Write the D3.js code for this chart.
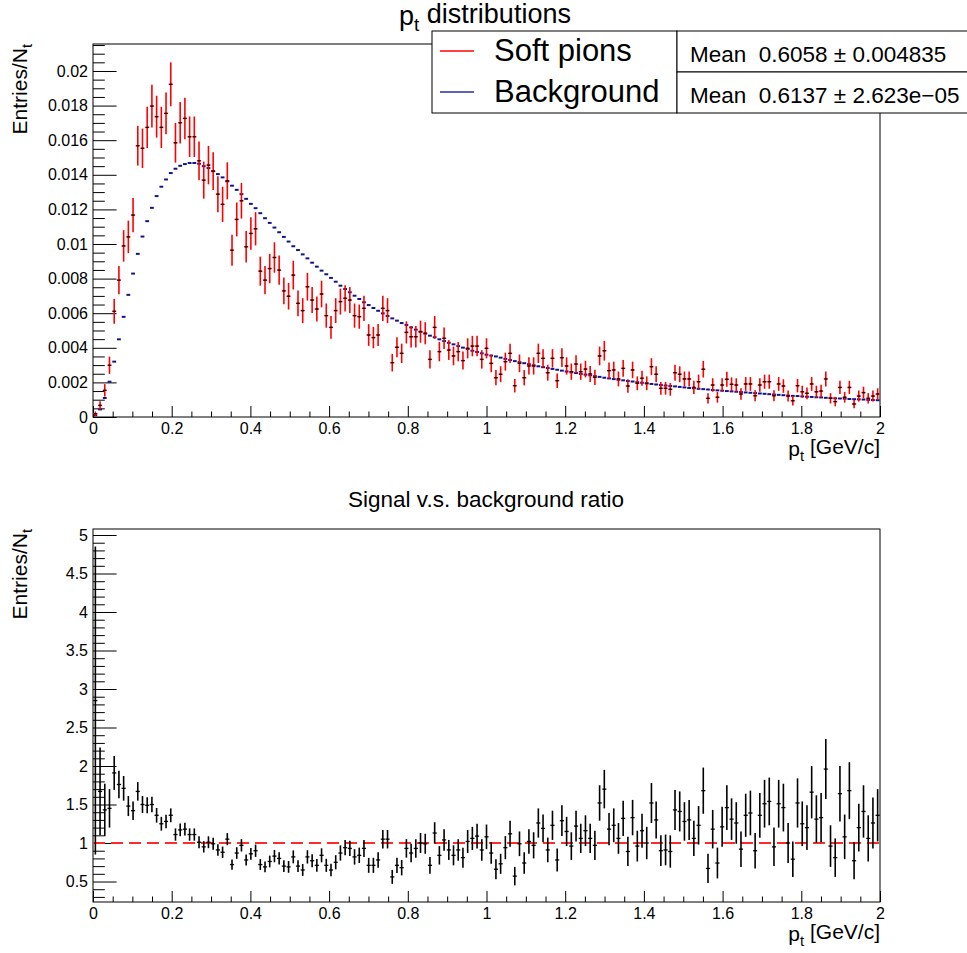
<!DOCTYPE html>
<html><head><meta charset="utf-8">
<script src="https://cdn.jsdelivr.net/npm/d3@7"></script>
<style>
body{margin:0;background:#fff}
svg{display:block}
text{font-family:"Liberation Sans",Arial,Helvetica,sans-serif;fill:#000}
</style>
</head><body><svg id="c" width="967" height="953"></svg>
<script>
// ---------- histogram binning ----------
const N_BINS = 167, X_MIN = 0, X_MAX = 2;

// ---------- Soft pions (Entries/N_t, in units of 1e-3) ----------
const softPions = [
0.19,0.67,1.54,2.99,6.11,7.91,9.89,10.41,11.67,15.68,15.53,16.74,17.97,17.36,16.74,17.55,19.23,15.85,17.01,17.26,16.20,16.20,14.81,13.69,14.56,14.21,12.88,12.29,13.65,9.64,11.42,12.5,9.84,10.61,10.88,8.43,7.91,8.58,9.22,8.49,7.29,6.98,8.20,
6.57,6.15,7.53,6.76,6.24,7.11,5.86,5.18,6.15,6.67,6.86,6.76,5.86,5.80,6.28,4.74,4.59,4.74,6.28,6.15,3.14,4.03,3.68,4.89,4.64,4.64,4.93,4.84,3.33,5.18,3.78,4.55,3.87,3.53,3.78,3.26,3.97,4.10,4.10,3.33,3.97,
3.10,2.27,2.47,3.20,3.68,1.81,3.10,2.27,2.95,2.95,3.68,3.39,2.56,3.39,2.10,3.43,2.95,2.62,3.06,2.62,2.77,2.49,2.29,3.53,3.83,2.68,2.72,2.20,2.81,1.79,2.72,1.95,2.24,1.95,2.91,2.47,1.66,1.66,1.60,2.56,2.47,2.20,2.20,
1.71,2.04,2.76,1.08,1.85,1.14,1.85,2.18,1.89,1.85,1.33,1.91,1.91,1.23,1.85,2.04,2.04,1.23,1.91,1.79,1.21,0.94,1.81,1.46,1.37,1.91,1.46,1.50,2.20,1.08,0.89,1.71,1.14,1.71,0.75,1.21,1.41,1.08,1.21,1.33
];
const softPionsErr = [
0.13,0.24,0.36,0.50,0.72,0.82,0.91,0.94,0.99,1.15,1.14,1.19,1.23,1.21,1.19,1.21,1.27,1.15,1.20,1.20,1.17,1.17,1.12,1.07,1.11,1.09,1.04,1.02,1.07,0.90,0.98,1.03,0.91,0.94,0.96,0.84,0.82,0.85,0.88,0.84,0.78,0.77,0.83,
0.74,0.72,0.80,0.75,0.72,0.77,0.70,0.66,0.72,0.75,0.76,0.75,0.70,0.70,0.73,0.63,0.62,0.63,0.73,0.72,0.51,0.58,0.56,0.64,0.62,0.62,0.64,0.64,0.53,0.66,0.56,0.62,0.57,0.54,0.56,0.52,0.58,0.59,0.59,0.53,0.58,
0.51,0.44,0.46,0.52,0.56,0.39,0.51,0.44,0.50,0.50,0.56,0.53,0.46,0.53,0.42,0.54,0.50,0.47,0.51,0.47,0.48,0.46,0.44,0.54,0.57,0.47,0.48,0.43,0.49,0.39,0.48,0.40,0.43,0.40,0.49,0.46,0.37,0.37,0.37,0.46,0.46,0.43,0.43,
0.38,0.41,0.48,0.30,0.39,0.31,0.39,0.43,0.40,0.39,0.33,0.40,0.40,0.32,0.39,0.41,0.41,0.32,0.40,0.39,0.32,0.28,0.39,0.35,0.34,0.40,0.35,0.36,0.43,0.30,0.27,0.38,0.31,0.38,0.25,0.32,0.34,0.30,0.32,0.33
];

// ---------- Background (Entries/N_t, in units of 1e-3) ----------
const background = [
0.10,0.44,1.10,2.04,3.20,4.49,5.79,7.06,8.29,9.43,10.43,11.32,12.09,12.77,13.31,13.73,14.10,14.35,14.52,14.62,14.68,14.68,14.64,14.50,14.39,14.21,14.04,13.85,13.62,13.37,13.13,12.88,12.61,12.32,12.07,11.78,11.49,11.22,10.95,10.68,10.41,10.14,9.87,
9.65,9.40,9.17,8.92,8.69,8.46,8.25,8.04,7.82,7.59,7.40,7.21,7.01,6.82,6.63,6.47,6.30,6.14,5.99,5.84,5.70,5.57,5.43,5.32,5.18,5.05,4.93,4.82,4.70,4.61,4.49,4.39,4.29,4.20,4.10,4.01,3.93,3.83,3.76,3.68,3.60,
3.55,3.50,3.43,3.36,3.29,3.23,3.17,3.11,3.05,2.99,
2.93,2.88,2.83,2.78,2.73,2.68,2.63,2.58,2.54,2.49,
2.45,2.41,2.36,2.32,2.27,2.23,2.19,2.15,2.12,2.08,
2.05,2.01,1.98,1.94,1.91,1.88,1.85,1.82,1.79,1.77,
1.74,1.71,1.68,1.66,1.63,1.61,1.59,1.56,1.54,1.52,
1.50,1.48,1.46,1.44,1.42,1.40,1.38,1.36,1.34,1.32,
1.30,1.28,1.26,1.24,1.22,1.21,1.19,1.17,1.16,1.14,
1.13,1.11,1.10,1.08,1.07,1.06,1.04,1.03,1.02,1.01,
0.99,0.98,0.97
];

// ---------- Signal / background ratio ----------
const ratio = [
2.85,1.67,1.43,1.45,1.91,1.76,1.71,1.48,1.42,1.67,1.50,1.49,1.50,1.36,1.25,1.28,1.36,1.11,1.17,1.18,1.11,1.11,1.01,0.95,1.01,0.99,0.91,0.88,1.05,0.72,0.87,0.97,0.78,0.86,0.90,0.72,0.69,0.76,0.83,0.80,0.70,0.69,0.82,
0.70,0.65,0.82,0.77,0.71,0.84,0.71,0.65,0.75,0.87,0.94,0.93,0.82,0.84,0.93,0.71,0.71,0.78,1.05,1.05,0.56,0.71,0.68,0.93,0.87,0.93,1.00,0.99,0.71,1.13,0.84,1.04,0.91,0.84,0.91,0.81,1.02,1.06,1.09,0.91,1.08,
0.87,0.66,0.73,0.94,1.12,0.57,0.99,0.74,1.02,0.97,1.26,1.19,0.91,1.23,0.78,1.29,1.15,0.96,1.22,1.06,1.16,1.06,0.97,1.52,1.70,1.18,1.23,1.06,1.32,0.89,1.33,0.96,1.16,1.00,1.52,1.30,0.90,0.91,0.89,1.43,1.41,1.28,1.30,
1.06,1.23,1.68,0.67,1.18,0.74,1.21,1.46,1.31,1.26,0.92,1.36,1.39,0.90,1.36,1.51,1.54,0.95,1.51,1.46,1.00,0.79,1.52,1.25,1.20,1.66,1.31,1.33,1.96,0.96,0.81,1.64,1.08,1.68,0.77,1.20,1.41,1.06,1.26,1.36
];
const ratioErr = [
2.0,0.57,0.34,0.25,0.22,0.18,0.16,0.13,0.12,0.12,0.11,0.105,0.10,0.095,0.09,0.088,0.09,0.08,0.083,0.082,0.08,0.08,0.077,0.074,0.077,0.077,0.074,0.074,0.079,0.067,0.075,0.08,0.072,0.076,0.08,0.071,0.071,0.076,0.08,0.079,0.075,0.076,0.084,
0.077,0.077,0.087,0.084,0.083,0.091,0.085,0.082,0.092,0.099,0.10,0.10,0.10,0.10,0.11,0.097,0.098,0.10,0.12,0.12,0.09,0.10,0.10,0.12,0.12,0.12,0.13,0.13,0.11,0.14,0.12,0.14,0.13,0.13,0.14,0.13,0.15,0.15,0.16,0.14,0.16,
0.14,0.13,0.13,0.15,0.17,0.12,0.16,0.14,0.16,0.17,0.19,0.18,0.16,0.19,0.15,0.20,0.19,0.18,0.20,0.19,0.20,0.19,0.19,0.23,0.25,0.21,0.22,0.20,0.23,0.19,0.23,0.20,0.22,0.21,0.26,0.24,0.20,0.20,0.21,0.26,0.26,0.25,0.26,
0.23,0.25,0.30,0.19,0.25,0.20,0.26,0.29,0.27,0.27,0.23,0.28,0.29,0.23,0.29,0.31,0.31,0.25,0.31,0.31,0.26,0.23,0.32,0.29,0.29,0.34,0.31,0.32,0.39,0.27,0.25,0.36,0.29,0.37,0.24,0.31,0.34,0.30,0.33,0.34
];

// ---------- ticks / labels ----------
const xTicks = [0,0.2,0.4,0.6,0.8,1,1.2,1.4,1.6,1.8,2];
const xTickLabels = ["0","0.2","0.4","0.6","0.8","1","1.2","1.4","1.6","1.8","2"];
const yTopTicks = [0,2,4,6,8,10,12,14,16,18,20];          // units of 1e-3
const yTopTickLabels = ["0","0.002","0.004","0.006","0.008","0.01","0.012","0.014","0.016","0.018","0.02"];
const yBotTicks = [0.5,1,1.5,2,2.5,3,3.5,4,4.5,5];
const yBotTickLabels = ["0.5","1","1.5","2","2.5","3","3.5","4","4.5","5"];
const legendLabels = ["Soft pions","Background"];
const statsLabels = ["Mean  0.6058 \u00b1 0.004835","Mean  0.6137 \u00b1 2.623e\u221205"];

[softPions,softPionsErr,background,ratio,ratioErr].forEach((a,k)=>{
  if(a.length!==N_BINS) throw new Error("array "+k+" has length "+a.length);
});

const FONT = '"Liberation Sans",Arial,Helvetica,sans-serif';
const svg = d3.select("#c");
svg.append("rect").attr("width",967).attr("height",953).attr("fill","#fff");

const FL=93, FR=880;
const x = d3.scaleLinear().domain([X_MIN,X_MAX]).range([FL,FR]);
const yT = d3.scaleLinear().domain([0,21.56]).range([417,44]);
const yB = d3.scaleLinear().domain([0.234,5.078]).range([902,529]);
const binW = (X_MAX-X_MIN)/N_BINS;
const bins = d3.range(N_BINS).map(i=>({i, lo:X_MIN+i*binW, hi:X_MIN+(i+1)*binW, c:X_MIN+(i+0.5)*binW}));

function drawAxes(g, yScale, yTicks, yLabels, yMinor, yBottom, ytickLen, xtickLen){
  const xMinor = d3.range(0,2.0001,0.05).filter(v=>Math.abs(v*5-Math.round(v*5))>1e-6);
  g.append("g").attr("transform",`translate(0,${yBottom})`)
    .call(d3.axisBottom(x).tickValues(xMinor).tickFormat("").tickSize(-xtickLen/2))
    .call(s=>s.select(".domain").remove());
  g.append("g").attr("transform",`translate(0,${yBottom})`)
    .call(d3.axisBottom(x).tickValues(xTicks).tickFormat((d,i)=>xTickLabels[i]).tickSize(-xtickLen).tickPadding(6))
    .call(s=>s.select(".domain").remove())
    .call(s=>s.selectAll("text").attr("font-size",16).attr("font-family",FONT));
  g.append("g").attr("transform",`translate(${FL},0)`)
    .call(d3.axisLeft(yScale).tickValues(yMinor).tickFormat("").tickSize(-ytickLen/2))
    .call(s=>s.select(".domain").remove());
  g.append("g").attr("transform",`translate(${FL},0)`)
    .call(d3.axisLeft(yScale).tickValues(yTicks).tickFormat((d,i)=>yLabels[i]).tickSize(-ytickLen).tickPadding(5))
    .call(s=>s.select(".domain").remove())
    .call(s=>s.selectAll("text").attr("font-size",16).attr("font-family",FONT));
  g.selectAll(".tick line").attr("stroke","#000").attr("stroke-width",1);
}

// ================= TOP PAD =================
const topG = svg.append("g");
topG.append("rect").attr("x",FL).attr("y",44).attr("width",FR-FL).attr("height",417-44)
  .attr("fill","none").attr("stroke","#000").attr("stroke-width",1);
const yTopMinor = d3.range(0,21.5001,0.5).filter(v=>Math.abs(v/2-Math.round(v/2))>1e-6);
drawAxes(topG, yT, yTopTicks, yTopTickLabels, yTopMinor, 417, 23.6, 11);

// background histogram (blue dashes)
topG.append("g").selectAll("line").data(bins).join("line")
  .attr("x1",d=>x(d.lo)+0.45).attr("x2",d=>x(d.hi)-0.45)
  .attr("y1",d=>yT(background[d.i])).attr("y2",d=>yT(background[d.i]))
  .attr("stroke","#12128a").attr("stroke-width",2);

// soft pions (red error bars)
const sp = topG.append("g");
sp.selectAll("line.v").data(bins).join("line").attr("class","v")
  .attr("x1",d=>x(d.c)).attr("x2",d=>x(d.c))
  .attr("y1",d=>yT(softPions[d.i]-softPionsErr[d.i])).attr("y2",d=>yT(softPions[d.i]+softPionsErr[d.i]))
  .attr("stroke","#ff0000").attr("stroke-width",1.6);
sp.selectAll("line.h").data(bins).join("line").attr("class","h")
  .attr("x1",d=>x(d.lo)+0.3).attr("x2",d=>x(d.hi)-0.3)
  .attr("y1",d=>yT(softPions[d.i])).attr("y2",d=>yT(softPions[d.i]))
  .attr("stroke","#ff0000").attr("stroke-width",1.4);
sp.selectAll("line.m").data(bins).join("line").attr("class","m")
  .attr("x1",d=>x(d.c)-1.4).attr("x2",d=>x(d.c)+1.4)
  .attr("y1",d=>yT(softPions[d.i])).attr("y2",d=>yT(softPions[d.i]))
  .attr("stroke","#000").attr("stroke-width",1.3);

// titles
const t1 = topG.append("text").attr("x",485).attr("y",25).attr("text-anchor","middle").attr("font-size",27);
t1.append("tspan").text("p");
t1.append("tspan").attr("dy","0.3em").attr("font-size","70%").text("t");
t1.append("tspan").attr("dy","-0.3em").text(" distributions");

function xTitle(g, yb){
  const t = g.append("text").attr("x",FR).attr("y",yb).attr("text-anchor","end").attr("font-size",21);
  t.append("tspan").text("p");
  t.append("tspan").attr("dy","0.35em").attr("font-size","70%").text("t");
  t.append("tspan").attr("dy","-0.35em").text(" [GeV/c]");
}
function yTitle(g, ytop){
  const t = g.append("text").attr("transform",`translate(27,${ytop}) rotate(-90)`).attr("text-anchor","end").attr("font-size",21);
  t.append("tspan").text("Entries/N");
  t.append("tspan").attr("dy","0.35em").attr("font-size","70%").text("t");
}
xTitle(topG, 456);
yTitle(topG, 44);

// legend
const leg = topG.append("g");
leg.append("rect").attr("x",432).attr("y",31).attr("width",677-432).attr("height",113-31)
  .attr("fill","#fff").attr("stroke","#000").attr("stroke-width",1);
const legColors = ["#ff0000","#2b2b9e"];
legendLabels.forEach((lab,k)=>{
  const yy = 51 + k*41;
  leg.append("line").attr("x1",440).attr("x2",474).attr("y1",yy).attr("y2",yy)
    .attr("stroke",legColors[k]).attr("stroke-width",1.5);
  leg.append("text").attr("x",494).attr("y",yy+10).attr("font-size",31).text(lab);
});
// stats boxes
statsLabels.forEach((lab,k)=>{
  const y0 = 31 + k*41;
  topG.append("rect").attr("x",677).attr("y",y0).attr("width",300).attr("height",41)
    .attr("fill","#fff").attr("stroke","#000").attr("stroke-width",1);
  topG.append("text").attr("x",690).attr("y",y0+31).attr("font-size",22.5)
    .attr("xml:space","preserve").style("white-space","pre").text(lab);
});

// ================= BOTTOM PAD =================
const botG = svg.append("g");
botG.append("rect").attr("x",FL).attr("y",529).attr("width",FR-FL).attr("height",902-529)
  .attr("fill","none").attr("stroke","#000").attr("stroke-width",1);
const yBotMinor = d3.range(0.3,5.0001,0.1).filter(v=>Math.abs(v*2-Math.round(v*2))>1e-6);
drawAxes(botG, yB, yBotTicks, yBotTickLabels, yBotMinor, 902, 23.6, 11);

botG.append("line").attr("x1",x(X_MIN)).attr("x2",x(X_MAX)).attr("y1",yB(1)).attr("y2",yB(1))
  .attr("stroke","#ff2a2a").attr("stroke-width",2).attr("stroke-dasharray","12,6");

const rp = botG.append("g");
rp.selectAll("line.v").data(bins).join("line").attr("class","v")
  .attr("x1",d=>x(d.c)).attr("x2",d=>x(d.c))
  .attr("y1",d=>yB(Math.max(0.234,ratio[d.i]-ratioErr[d.i]))).attr("y2",d=>yB(Math.min(5.078,ratio[d.i]+ratioErr[d.i])))
  .attr("stroke","#000").attr("stroke-width",1.6);
rp.selectAll("line.h").data(bins).join("line").attr("class","h")
  .attr("x1",d=>x(d.lo)+0.3).attr("x2",d=>x(d.hi)-0.3)
  .attr("y1",d=>yB(ratio[d.i])).attr("y2",d=>yB(ratio[d.i]))
  .attr("stroke","#000").attr("stroke-width",1.3);

botG.append("text").attr("x",486).attr("y",507).attr("text-anchor","middle").attr("font-size",22.5)
  .text("Signal v.s. background ratio");
xTitle(botG, 941);
yTitle(botG, 529);
</script>
</body></html>
